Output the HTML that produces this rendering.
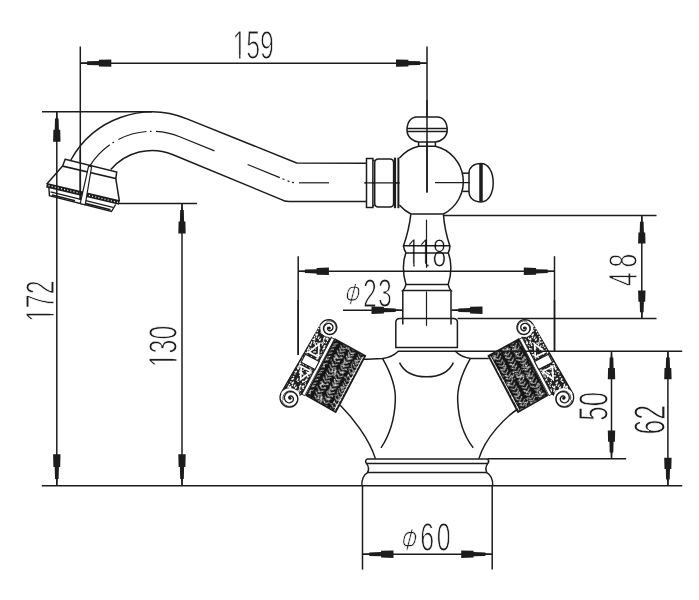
<!DOCTYPE html>
<html lang="en"><head><meta charset="utf-8"><title>Faucet dimensions</title>
<style>
html,body{margin:0;padding:0;background:#fff;}
body{width:699px;height:600px;overflow:hidden;}
svg{display:block;filter:grayscale(1);}
.t{font-family:"Liberation Sans",sans-serif;fill:#1c1c1c;stroke:#fff;stroke-width:1.1px;paint-order:fill stroke;mix-blend-mode:multiply;}
.i{font-style:italic;stroke-width:0.9px;}
</style></head><body>
<svg width="699" height="600" viewBox="0 0 699 600">
<defs><pattern id="texL" width="30" height="30" patternUnits="userSpaceOnUse" patternTransform="rotate(117.7)"><rect width="30" height="30" fill="#141414"/><polyline points="0.0,1.4 2.6,4.8 0.0,8.2" stroke="#f4f4f4" stroke-width="0.95" fill="none"/><polyline points="3.9,1.3 6.5,4.7 3.9,8.1" stroke="#f4f4f4" stroke-width="0.95" fill="none"/><polyline points="7.8,1.8 10.4,5.2 7.8,8.6" stroke="#f4f4f4" stroke-width="0.95" fill="none"/><polyline points="11.7,1.2 14.3,4.6 11.7,8.0" stroke="#f4f4f4" stroke-width="0.95" fill="none"/><polyline points="15.6,1.6 18.2,5.0 15.6,8.4" stroke="#f4f4f4" stroke-width="0.95" fill="none"/><polyline points="19.5,1.5 22.1,4.9 19.5,8.3" stroke="#f4f4f4" stroke-width="0.95" fill="none"/><polyline points="23.4,1.2 26.0,4.6 23.4,8.0" stroke="#f4f4f4" stroke-width="0.95" fill="none"/><polyline points="27.3,1.6 29.9,5.0 27.3,8.4" stroke="#f4f4f4" stroke-width="0.95" fill="none"/><polyline points="0.0,11.1 2.6,14.5 0.0,17.9" stroke="#f4f4f4" stroke-width="0.95" fill="none"/><polyline points="3.9,11.5 6.5,14.9 3.9,18.3" stroke="#f4f4f4" stroke-width="0.95" fill="none"/><polyline points="7.8,11.2 10.4,14.6 7.8,18.0" stroke="#f4f4f4" stroke-width="0.95" fill="none"/><polyline points="11.7,11.2 14.3,14.6 11.7,18.0" stroke="#f4f4f4" stroke-width="0.95" fill="none"/><polyline points="15.6,11.5 18.2,14.9 15.6,18.3" stroke="#f4f4f4" stroke-width="0.95" fill="none"/><polyline points="19.5,11.9 22.1,15.3 19.5,18.7" stroke="#f4f4f4" stroke-width="0.95" fill="none"/><polyline points="23.4,11.2 26.0,14.6 23.4,18.0" stroke="#f4f4f4" stroke-width="0.95" fill="none"/><polyline points="27.3,11.3 29.9,14.7 27.3,18.1" stroke="#f4f4f4" stroke-width="0.95" fill="none"/><polyline points="0.0,21.7 2.6,25.1 0.0,28.5" stroke="#f4f4f4" stroke-width="0.95" fill="none"/><polyline points="3.9,22.0 6.5,25.4 3.9,28.8" stroke="#f4f4f4" stroke-width="0.95" fill="none"/><polyline points="7.8,21.7 10.4,25.1 7.8,28.5" stroke="#f4f4f4" stroke-width="0.95" fill="none"/><polyline points="11.7,21.5 14.3,24.9 11.7,28.3" stroke="#f4f4f4" stroke-width="0.95" fill="none"/><polyline points="15.6,22.1 18.2,25.5 15.6,28.9" stroke="#f4f4f4" stroke-width="0.95" fill="none"/><polyline points="19.5,21.1 22.1,24.5 19.5,27.9" stroke="#f4f4f4" stroke-width="0.95" fill="none"/><polyline points="23.4,22.0 26.0,25.4 23.4,28.8" stroke="#f4f4f4" stroke-width="0.95" fill="none"/><polyline points="27.3,21.4 29.9,24.8 27.3,28.2" stroke="#f4f4f4" stroke-width="0.95" fill="none"/><path d="M4.3,3.5 l1.0,1.8" stroke="#f4f4f4" stroke-width="1.0" fill="none"/><path d="M20.5,3.1 l0.0,2.2" stroke="#f4f4f4" stroke-width="1.0" fill="none"/><path d="M11.2,16.4 l1.7,1.2" stroke="#f4f4f4" stroke-width="1.0" fill="none"/><path d="M18.6,14.9 l0.0,1.7" stroke="#f4f4f4" stroke-width="1.0" fill="none"/><path d="M9.4,17.6 l-0.8,1.4" stroke="#f4f4f4" stroke-width="1.0" fill="none"/><path d="M7.5,5.4 l-0.8,0.6" stroke="#f4f4f4" stroke-width="1.0" fill="none"/><path d="M9.0,14.9 l1.2,2.1" stroke="#f4f4f4" stroke-width="1.0" fill="none"/><path d="M8.6,29.4 l1.6,1.1" stroke="#f4f4f4" stroke-width="1.0" fill="none"/><path d="M4.9,10.3 l-0.9,1.5" stroke="#f4f4f4" stroke-width="1.0" fill="none"/><path d="M28.9,2.3 l0.0,2.1" stroke="#f4f4f4" stroke-width="1.0" fill="none"/><path d="M26.3,9.4 l1.6,0.0" stroke="#f4f4f4" stroke-width="1.0" fill="none"/><path d="M14.9,23.9 l2.2,1.5" stroke="#f4f4f4" stroke-width="1.0" fill="none"/><path d="M28.3,14.2 l0.9,0.0" stroke="#f4f4f4" stroke-width="1.0" fill="none"/><path d="M21.9,9.3 l0.0,3.0" stroke="#f4f4f4" stroke-width="1.0" fill="none"/><path d="M24.7,8.5 l-1.4,2.4" stroke="#f4f4f4" stroke-width="1.0" fill="none"/><path d="M10.4,28.2 l0.6,1.0" stroke="#f4f4f4" stroke-width="1.0" fill="none"/><path d="M3.5,1.8 l0.5,0.9" stroke="#f4f4f4" stroke-width="1.0" fill="none"/><path d="M7.4,11.7 l-0.5,0.8" stroke="#f4f4f4" stroke-width="1.0" fill="none"/><path d="M13.5,16.5 l-2.1,1.5" stroke="#f4f4f4" stroke-width="1.0" fill="none"/><path d="M25.9,8.4 l-1.5,2.6" stroke="#f4f4f4" stroke-width="1.0" fill="none"/><path d="M20.5,11.4 l-0.9,0.6" stroke="#f4f4f4" stroke-width="1.0" fill="none"/><path d="M5.3,7.0 l-0.7,0.5" stroke="#f4f4f4" stroke-width="1.0" fill="none"/><path d="M24.9,5.5 l0.4,0.7" stroke="#f4f4f4" stroke-width="1.0" fill="none"/><path d="M12.6,11.1 l0.0,1.5" stroke="#f4f4f4" stroke-width="1.0" fill="none"/><path d="M3.8,25.8 l0.0,2.2" stroke="#f4f4f4" stroke-width="1.0" fill="none"/><path d="M22.2,13.7 l2.6,0.0" stroke="#f4f4f4" stroke-width="1.0" fill="none"/><path d="M11.8,12.0 l1.5,1.1" stroke="#f4f4f4" stroke-width="1.0" fill="none"/><path d="M12.0,5.7 l-1.4,1.0" stroke="#f4f4f4" stroke-width="1.0" fill="none"/><path d="M3.3,18.0 l0.7,0.5" stroke="#f4f4f4" stroke-width="1.0" fill="none"/><path d="M4.5,3.0 l1.1,1.9" stroke="#f4f4f4" stroke-width="1.0" fill="none"/><path d="M2.1,6.2 l-0.6,1.0" stroke="#f4f4f4" stroke-width="1.0" fill="none"/><path d="M7.6,10.4 l0.9,1.6" stroke="#f4f4f4" stroke-width="1.0" fill="none"/><path d="M3.5,14.6 l-0.9,1.6" stroke="#f4f4f4" stroke-width="1.0" fill="none"/><path d="M9.4,4.3 l1.6,0.0" stroke="#f4f4f4" stroke-width="1.0" fill="none"/><path d="M7.9,24.9 l-1.6,1.1" stroke="#f4f4f4" stroke-width="1.0" fill="none"/><path d="M6.2,28.6 l0.6,1.0" stroke="#f4f4f4" stroke-width="1.0" fill="none"/><path d="M16.3,0.8 l0.0,1.5" stroke="#f4f4f4" stroke-width="1.0" fill="none"/><path d="M19.3,2.7 l1.0,1.7" stroke="#f4f4f4" stroke-width="1.0" fill="none"/><path d="M27.2,10.7 l-1.6,1.1" stroke="#f4f4f4" stroke-width="1.0" fill="none"/><path d="M23.4,9.9 l-1.8,1.2" stroke="#f4f4f4" stroke-width="1.0" fill="none"/><path d="M23.7,22.7 l-2.1,1.5" stroke="#f4f4f4" stroke-width="1.0" fill="none"/><path d="M24.5,22.2 l-1.0,0.7" stroke="#f4f4f4" stroke-width="1.0" fill="none"/><path d="M14.8,21.9 l2.1,1.5" stroke="#f4f4f4" stroke-width="1.0" fill="none"/><path d="M14.2,5.8 l0.0,2.9" stroke="#f4f4f4" stroke-width="1.0" fill="none"/><path d="M13.4,28.1 l1.5,2.5" stroke="#f4f4f4" stroke-width="1.0" fill="none"/><path d="M10.9,6.6 l-1.5,1.1" stroke="#f4f4f4" stroke-width="1.0" fill="none"/><path d="M10.1,14.5 l0.0,2.6" stroke="#f4f4f4" stroke-width="1.0" fill="none"/><path d="M14.4,19.6 l1.0,0.0" stroke="#f4f4f4" stroke-width="1.0" fill="none"/><path d="M19.8,27.3 l2.5,0.0" stroke="#f4f4f4" stroke-width="1.0" fill="none"/><path d="M14.3,5.4 l1.5,0.0" stroke="#f4f4f4" stroke-width="1.0" fill="none"/><path d="M24.0,29.1 l-0.9,1.6" stroke="#f4f4f4" stroke-width="1.0" fill="none"/><path d="M22.3,2.5 l-1.0,0.7" stroke="#f4f4f4" stroke-width="1.0" fill="none"/><path d="M3.8,4.5 l-1.3,2.2" stroke="#f4f4f4" stroke-width="1.0" fill="none"/><path d="M4.4,24.8 l-1.1,1.9" stroke="#f4f4f4" stroke-width="1.0" fill="none"/><path d="M10.5,16.5 l-0.7,0.5" stroke="#f4f4f4" stroke-width="1.0" fill="none"/></pattern><pattern id="texR" width="30" height="30" patternUnits="userSpaceOnUse" patternTransform="rotate(62.3)"><rect width="30" height="30" fill="#141414"/><polyline points="0.0,1.9 2.6,5.3 0.0,8.7" stroke="#f4f4f4" stroke-width="0.95" fill="none"/><polyline points="3.9,1.8 6.5,5.2 3.9,8.6" stroke="#f4f4f4" stroke-width="0.95" fill="none"/><polyline points="7.8,1.2 10.4,4.6 7.8,8.0" stroke="#f4f4f4" stroke-width="0.95" fill="none"/><polyline points="11.7,1.8 14.3,5.2 11.7,8.6" stroke="#f4f4f4" stroke-width="0.95" fill="none"/><polyline points="15.6,1.2 18.2,4.6 15.6,8.0" stroke="#f4f4f4" stroke-width="0.95" fill="none"/><polyline points="19.5,2.1 22.1,5.5 19.5,8.9" stroke="#f4f4f4" stroke-width="0.95" fill="none"/><polyline points="23.4,1.3 26.0,4.7 23.4,8.1" stroke="#f4f4f4" stroke-width="0.95" fill="none"/><polyline points="27.3,2.0 29.9,5.4 27.3,8.8" stroke="#f4f4f4" stroke-width="0.95" fill="none"/><polyline points="0.0,11.1 2.6,14.5 0.0,17.9" stroke="#f4f4f4" stroke-width="0.95" fill="none"/><polyline points="3.9,11.3 6.5,14.7 3.9,18.1" stroke="#f4f4f4" stroke-width="0.95" fill="none"/><polyline points="7.8,11.6 10.4,15.0 7.8,18.4" stroke="#f4f4f4" stroke-width="0.95" fill="none"/><polyline points="11.7,11.9 14.3,15.3 11.7,18.7" stroke="#f4f4f4" stroke-width="0.95" fill="none"/><polyline points="15.6,11.4 18.2,14.8 15.6,18.2" stroke="#f4f4f4" stroke-width="0.95" fill="none"/><polyline points="19.5,11.6 22.1,15.0 19.5,18.4" stroke="#f4f4f4" stroke-width="0.95" fill="none"/><polyline points="23.4,11.9 26.0,15.3 23.4,18.7" stroke="#f4f4f4" stroke-width="0.95" fill="none"/><polyline points="27.3,11.2 29.9,14.6 27.3,18.0" stroke="#f4f4f4" stroke-width="0.95" fill="none"/><polyline points="0.0,21.8 2.6,25.2 0.0,28.6" stroke="#f4f4f4" stroke-width="0.95" fill="none"/><polyline points="3.9,22.0 6.5,25.4 3.9,28.8" stroke="#f4f4f4" stroke-width="0.95" fill="none"/><polyline points="7.8,21.8 10.4,25.2 7.8,28.6" stroke="#f4f4f4" stroke-width="0.95" fill="none"/><polyline points="11.7,21.9 14.3,25.3 11.7,28.7" stroke="#f4f4f4" stroke-width="0.95" fill="none"/><polyline points="15.6,21.6 18.2,25.0 15.6,28.4" stroke="#f4f4f4" stroke-width="0.95" fill="none"/><polyline points="19.5,21.9 22.1,25.3 19.5,28.7" stroke="#f4f4f4" stroke-width="0.95" fill="none"/><polyline points="23.4,22.0 26.0,25.4 23.4,28.8" stroke="#f4f4f4" stroke-width="0.95" fill="none"/><polyline points="27.3,21.2 29.9,24.6 27.3,28.0" stroke="#f4f4f4" stroke-width="0.95" fill="none"/><path d="M4.6,15.3 l-1.3,2.2" stroke="#f4f4f4" stroke-width="1.0" fill="none"/><path d="M18.3,23.3 l-1.0,0.7" stroke="#f4f4f4" stroke-width="1.0" fill="none"/><path d="M14.2,21.8 l0.0,0.9" stroke="#f4f4f4" stroke-width="1.0" fill="none"/><path d="M20.5,15.9 l-1.3,2.2" stroke="#f4f4f4" stroke-width="1.0" fill="none"/><path d="M3.2,16.8 l-1.0,0.7" stroke="#f4f4f4" stroke-width="1.0" fill="none"/><path d="M1.3,2.9 l-1.0,1.8" stroke="#f4f4f4" stroke-width="1.0" fill="none"/><path d="M22.8,27.4 l-0.8,1.3" stroke="#f4f4f4" stroke-width="1.0" fill="none"/><path d="M29.2,18.2 l-1.9,1.3" stroke="#f4f4f4" stroke-width="1.0" fill="none"/><path d="M13.6,16.0 l-1.0,1.7" stroke="#f4f4f4" stroke-width="1.0" fill="none"/><path d="M7.4,15.7 l1.4,2.5" stroke="#f4f4f4" stroke-width="1.0" fill="none"/><path d="M26.8,6.1 l-0.6,1.0" stroke="#f4f4f4" stroke-width="1.0" fill="none"/><path d="M3.6,13.3 l1.9,1.3" stroke="#f4f4f4" stroke-width="1.0" fill="none"/><path d="M12.9,6.4 l1.3,2.2" stroke="#f4f4f4" stroke-width="1.0" fill="none"/><path d="M26.9,4.6 l2.2,0.0" stroke="#f4f4f4" stroke-width="1.0" fill="none"/><path d="M11.0,7.6 l-2.4,1.7" stroke="#f4f4f4" stroke-width="1.0" fill="none"/><path d="M6.6,28.6 l-1.4,2.4" stroke="#f4f4f4" stroke-width="1.0" fill="none"/><path d="M4.9,20.0 l-0.9,0.7" stroke="#f4f4f4" stroke-width="1.0" fill="none"/><path d="M12.9,15.5 l0.9,1.5" stroke="#f4f4f4" stroke-width="1.0" fill="none"/><path d="M10.7,2.8 l0.4,0.7" stroke="#f4f4f4" stroke-width="1.0" fill="none"/><path d="M16.6,13.2 l1.3,0.9" stroke="#f4f4f4" stroke-width="1.0" fill="none"/><path d="M15.5,8.9 l0.9,0.6" stroke="#f4f4f4" stroke-width="1.0" fill="none"/><path d="M27.6,6.9 l0.8,0.6" stroke="#f4f4f4" stroke-width="1.0" fill="none"/><path d="M8.2,27.2 l-1.1,0.8" stroke="#f4f4f4" stroke-width="1.0" fill="none"/><path d="M3.9,12.7 l2.6,0.0" stroke="#f4f4f4" stroke-width="1.0" fill="none"/><path d="M7.8,4.5 l0.0,2.1" stroke="#f4f4f4" stroke-width="1.0" fill="none"/><path d="M21.0,2.7 l2.1,1.5" stroke="#f4f4f4" stroke-width="1.0" fill="none"/><path d="M5.5,26.9 l1.4,2.5" stroke="#f4f4f4" stroke-width="1.0" fill="none"/><path d="M19.0,24.0 l1.8,1.2" stroke="#f4f4f4" stroke-width="1.0" fill="none"/><path d="M6.7,7.9 l1.5,1.0" stroke="#f4f4f4" stroke-width="1.0" fill="none"/><path d="M10.2,16.6 l1.1,1.9" stroke="#f4f4f4" stroke-width="1.0" fill="none"/><path d="M1.3,21.3 l2.4,1.7" stroke="#f4f4f4" stroke-width="1.0" fill="none"/><path d="M7.9,5.4 l1.1,1.9" stroke="#f4f4f4" stroke-width="1.0" fill="none"/><path d="M15.9,6.2 l-1.0,1.6" stroke="#f4f4f4" stroke-width="1.0" fill="none"/><path d="M5.3,10.4 l2.4,1.7" stroke="#f4f4f4" stroke-width="1.0" fill="none"/><path d="M1.1,0.6 l0.0,2.0" stroke="#f4f4f4" stroke-width="1.0" fill="none"/><path d="M5.7,14.2 l-0.5,0.9" stroke="#f4f4f4" stroke-width="1.0" fill="none"/><path d="M24.6,13.0 l-1.0,1.7" stroke="#f4f4f4" stroke-width="1.0" fill="none"/><path d="M26.7,29.1 l1.2,2.0" stroke="#f4f4f4" stroke-width="1.0" fill="none"/><path d="M29.5,10.3 l2.4,0.0" stroke="#f4f4f4" stroke-width="1.0" fill="none"/><path d="M4.2,29.7 l2.2,1.5" stroke="#f4f4f4" stroke-width="1.0" fill="none"/><path d="M0.4,18.8 l0.9,1.5" stroke="#f4f4f4" stroke-width="1.0" fill="none"/><path d="M1.7,20.0 l-1.4,2.4" stroke="#f4f4f4" stroke-width="1.0" fill="none"/><path d="M20.1,8.5 l-1.9,1.3" stroke="#f4f4f4" stroke-width="1.0" fill="none"/><path d="M1.4,5.6 l0.9,1.5" stroke="#f4f4f4" stroke-width="1.0" fill="none"/><path d="M7.9,28.9 l0.0,1.5" stroke="#f4f4f4" stroke-width="1.0" fill="none"/><path d="M1.0,26.5 l-1.3,0.9" stroke="#f4f4f4" stroke-width="1.0" fill="none"/><path d="M0.0,11.4 l-0.7,1.2" stroke="#f4f4f4" stroke-width="1.0" fill="none"/><path d="M19.7,7.4 l0.8,0.6" stroke="#f4f4f4" stroke-width="1.0" fill="none"/><path d="M24.5,4.3 l0.0,0.9" stroke="#f4f4f4" stroke-width="1.0" fill="none"/><path d="M0.7,9.1 l-0.8,0.6" stroke="#f4f4f4" stroke-width="1.0" fill="none"/><path d="M28.7,25.6 l-1.8,1.3" stroke="#f4f4f4" stroke-width="1.0" fill="none"/><path d="M21.5,26.4 l-1.2,2.1" stroke="#f4f4f4" stroke-width="1.0" fill="none"/><path d="M21.6,14.8 l1.2,2.1" stroke="#f4f4f4" stroke-width="1.0" fill="none"/><path d="M19.3,1.3 l2.8,0.0" stroke="#f4f4f4" stroke-width="1.0" fill="none"/><path d="M18.8,22.0 l0.0,1.1" stroke="#f4f4f4" stroke-width="1.0" fill="none"/></pattern><pattern id="tex2" width="24" height="24" patternUnits="userSpaceOnUse"><rect width="24" height="24" fill="#222222"/><path d="M12.6,12.1 l2.1,1.5" stroke="#ffffff" stroke-width="1.2" fill="none"/><path d="M14.0,21.4 l2.9,0.0" stroke="#ffffff" stroke-width="1.2" fill="none"/><path d="M15.4,2.0 l0.9,0.6" stroke="#ffffff" stroke-width="1.2" fill="none"/><path d="M8.7,2.5 l-1.0,1.8" stroke="#ffffff" stroke-width="1.2" fill="none"/><path d="M15.1,15.0 l1.3,0.0" stroke="#ffffff" stroke-width="1.2" fill="none"/><path d="M6.3,11.0 l2.0,1.4" stroke="#ffffff" stroke-width="1.2" fill="none"/><path d="M12.1,12.8 l2.0,0.0" stroke="#ffffff" stroke-width="1.2" fill="none"/><path d="M17.9,11.4 l2.2,1.5" stroke="#ffffff" stroke-width="1.2" fill="none"/><path d="M5.6,18.2 l-2.0,1.4" stroke="#ffffff" stroke-width="1.2" fill="none"/><path d="M23.4,11.9 l-0.5,0.8" stroke="#ffffff" stroke-width="1.2" fill="none"/><path d="M21.9,6.9 l1.8,1.2" stroke="#ffffff" stroke-width="1.2" fill="none"/><path d="M15.4,1.9 l-1.3,0.9" stroke="#ffffff" stroke-width="1.2" fill="none"/><path d="M15.6,16.6 l0.0,2.0" stroke="#ffffff" stroke-width="1.2" fill="none"/><path d="M0.3,1.5 l1.5,2.5" stroke="#ffffff" stroke-width="1.2" fill="none"/><path d="M2.4,5.2 l-0.7,1.2" stroke="#ffffff" stroke-width="1.2" fill="none"/><path d="M12.4,11.2 l-1.2,2.2" stroke="#ffffff" stroke-width="1.2" fill="none"/><path d="M23.8,13.2 l1.5,2.6" stroke="#ffffff" stroke-width="1.2" fill="none"/><path d="M22.5,0.4 l-0.5,0.8" stroke="#ffffff" stroke-width="1.2" fill="none"/><path d="M12.2,23.9 l0.8,1.4" stroke="#ffffff" stroke-width="1.2" fill="none"/><path d="M22.0,22.3 l1.7,1.2" stroke="#ffffff" stroke-width="1.2" fill="none"/><path d="M3.4,12.6 l0.5,0.9" stroke="#ffffff" stroke-width="1.2" fill="none"/><path d="M19.7,12.2 l1.9,1.3" stroke="#ffffff" stroke-width="1.2" fill="none"/><path d="M5.6,21.5 l-0.8,1.4" stroke="#ffffff" stroke-width="1.2" fill="none"/><path d="M3.8,22.8 l1.8,0.0" stroke="#ffffff" stroke-width="1.2" fill="none"/><path d="M7.2,3.4 l0.8,1.4" stroke="#ffffff" stroke-width="1.2" fill="none"/><path d="M2.9,8.0 l1.2,2.1" stroke="#ffffff" stroke-width="1.2" fill="none"/><path d="M20.1,2.9 l-1.9,1.4" stroke="#ffffff" stroke-width="1.2" fill="none"/><path d="M21.6,7.0 l0.5,0.8" stroke="#ffffff" stroke-width="1.2" fill="none"/><path d="M9.4,20.9 l1.3,0.9" stroke="#ffffff" stroke-width="1.2" fill="none"/><path d="M10.3,6.6 l1.2,0.8" stroke="#ffffff" stroke-width="1.2" fill="none"/><path d="M1.2,15.9 l2.9,0.0" stroke="#ffffff" stroke-width="1.2" fill="none"/><path d="M6.0,6.4 l0.0,1.5" stroke="#ffffff" stroke-width="1.2" fill="none"/><path d="M18.6,18.8 l-1.4,2.4" stroke="#ffffff" stroke-width="1.2" fill="none"/><path d="M19.5,15.1 l0.0,2.0" stroke="#ffffff" stroke-width="1.2" fill="none"/><path d="M17.3,1.2 l1.7,0.0" stroke="#ffffff" stroke-width="1.2" fill="none"/><path d="M14.8,3.3 l0.9,1.6" stroke="#ffffff" stroke-width="1.2" fill="none"/><path d="M21.9,13.2 l-1.5,1.1" stroke="#ffffff" stroke-width="1.2" fill="none"/><path d="M8.2,7.1 l2.4,0.0" stroke="#ffffff" stroke-width="1.2" fill="none"/><path d="M15.7,9.7 l-1.2,0.8" stroke="#ffffff" stroke-width="1.2" fill="none"/><path d="M13.4,9.5 l-1.8,1.3" stroke="#ffffff" stroke-width="1.2" fill="none"/><path d="M1.8,12.0 l-1.0,1.7" stroke="#ffffff" stroke-width="1.2" fill="none"/><path d="M10.9,8.0 l-0.9,1.5" stroke="#ffffff" stroke-width="1.2" fill="none"/><path d="M13.1,5.9 l-1.3,0.9" stroke="#ffffff" stroke-width="1.2" fill="none"/><path d="M2.2,5.7 l1.3,2.2" stroke="#ffffff" stroke-width="1.2" fill="none"/><path d="M4.9,0.5 l-0.8,1.4" stroke="#ffffff" stroke-width="1.2" fill="none"/><path d="M17.9,5.0 l0.8,1.3" stroke="#ffffff" stroke-width="1.2" fill="none"/><path d="M1.5,6.7 l0.5,0.9" stroke="#ffffff" stroke-width="1.2" fill="none"/><path d="M12.1,15.1 l-0.8,0.6" stroke="#ffffff" stroke-width="1.2" fill="none"/><path d="M21.5,9.2 l1.8,0.0" stroke="#ffffff" stroke-width="1.2" fill="none"/><path d="M22.9,20.4 l0.9,0.6" stroke="#ffffff" stroke-width="1.2" fill="none"/><path d="M10.2,18.3 l-1.5,2.5" stroke="#ffffff" stroke-width="1.2" fill="none"/><path d="M11.8,1.8 l0.0,2.7" stroke="#ffffff" stroke-width="1.2" fill="none"/><path d="M23.3,6.0 l1.1,0.7" stroke="#ffffff" stroke-width="1.2" fill="none"/><path d="M3.6,23.3 l2.4,1.6" stroke="#ffffff" stroke-width="1.2" fill="none"/><path d="M17.3,15.5 l-0.5,0.9" stroke="#ffffff" stroke-width="1.2" fill="none"/><path d="M18.6,0.0 l-1.1,0.8" stroke="#ffffff" stroke-width="1.2" fill="none"/><path d="M22.1,15.5 l1.5,2.5" stroke="#ffffff" stroke-width="1.2" fill="none"/><path d="M15.0,12.7 l-1.2,2.0" stroke="#ffffff" stroke-width="1.2" fill="none"/><path d="M2.7,1.7 l0.0,2.9" stroke="#ffffff" stroke-width="1.2" fill="none"/><path d="M4.6,6.3 l0.0,0.8" stroke="#ffffff" stroke-width="1.2" fill="none"/><path d="M12.9,23.9 l1.5,2.5" stroke="#ffffff" stroke-width="1.2" fill="none"/><path d="M15.5,21.2 l-1.0,1.7" stroke="#ffffff" stroke-width="1.2" fill="none"/><path d="M13.1,0.7 l-1.2,2.0" stroke="#ffffff" stroke-width="1.2" fill="none"/><path d="M7.4,0.5 l-1.4,2.4" stroke="#ffffff" stroke-width="1.2" fill="none"/><path d="M15.5,1.9 l-1.9,1.3" stroke="#ffffff" stroke-width="1.2" fill="none"/><path d="M22.2,5.4 l1.9,1.3" stroke="#ffffff" stroke-width="1.2" fill="none"/><path d="M17.2,8.7 l-0.6,1.1" stroke="#ffffff" stroke-width="1.2" fill="none"/><path d="M19.1,17.7 l0.0,0.9" stroke="#ffffff" stroke-width="1.2" fill="none"/><path d="M11.9,4.8 l-1.1,0.8" stroke="#ffffff" stroke-width="1.2" fill="none"/><path d="M5.3,18.3 l0.5,0.9" stroke="#ffffff" stroke-width="1.2" fill="none"/></pattern><clipPath id="c0" clipPathUnits="userSpaceOnUse"><path d="M-39.79,-40.50 H39.79 V14.17 H-39.79 Z M-33.79,-3.56 H-22.97 V1.21 H-33.79 Z M-20.70,-3.56 H-11.27 V1.21 H-20.70 Z" clip-rule="evenodd"/></clipPath><clipPath id="c1" clipPathUnits="userSpaceOnUse"><path d="M-39.79,-40.50 H39.79 V14.17 H-39.79 Z M-33.79,-3.56 H-22.97 V1.21 H-33.79 Z M-20.70,-3.56 H-11.27 V1.21 H-20.70 Z" clip-rule="evenodd"/></clipPath><clipPath id="c2" clipPathUnits="userSpaceOnUse"><path d="M-39.79,-40.50 H39.79 V14.17 H-39.79 Z M-33.79,-3.56 H-22.97 V1.21 H-33.79 Z M-20.70,-3.56 H-11.27 V1.21 H-20.70 Z" clip-rule="evenodd"/></clipPath><clipPath id="c3" clipPathUnits="userSpaceOnUse"><path d="M-39.79,-40.50 H39.79 V14.17 H-39.79 Z M-33.79,-3.56 H-22.97 V1.21 H-33.79 Z M-20.70,-3.56 H-11.27 V1.21 H-20.70 Z M-11.26,-3.56 H-0.45 V1.21 H-11.26 Z M1.82,-3.56 H11.26 V1.21 H1.82 Z" clip-rule="evenodd"/></clipPath></defs>
<rect width="699" height="600" fill="#fff"/>
<g fill="none" stroke="#1c1c1c">
<line x1="80.3" y1="46.5" x2="80.3" y2="200.0" stroke-width="1.5" />
<line x1="427.0" y1="46.5" x2="427.0" y2="192.6" stroke-width="1.5" />
<line x1="80.3" y1="63.3" x2="427.0" y2="63.3" stroke-width="1.5" />
<polygon points="0.0,0.5 6.8,0.9 6.8,1.8 18.6,2.1 18.6,3.4 31.0,3.7 31.0,-3.7 18.6,-3.4 18.6,-2.1 6.8,-1.8 6.8,-0.9 0.0,-0.5" fill="#1c1c1c" stroke="none" transform="translate(80.3,63.1) rotate(0)"/>
<polygon points="0.0,0.5 6.8,0.9 6.8,1.8 18.6,2.1 18.6,3.4 31.0,3.7 31.0,-3.7 18.6,-3.4 18.6,-2.1 6.8,-1.8 6.8,-0.9 0.0,-0.5" fill="#1c1c1c" stroke="none" transform="translate(427.0,63.1) rotate(180)"/>
<line x1="42.0" y1="111.8" x2="152.0" y2="111.8" stroke-width="1.5" />
<line x1="56.8" y1="111.8" x2="56.8" y2="485.8" stroke-width="1.5" />
<polygon points="0.0,0.5 6.6,0.9 6.6,1.8 18.0,2.1 18.0,3.4 30.0,3.7 30.0,-3.7 18.0,-3.4 18.0,-2.1 6.6,-1.8 6.6,-0.9 0.0,-0.5" fill="#1c1c1c" stroke="none" transform="translate(56.8,111.8) rotate(90)"/>
<polygon points="0.0,0.5 6.9,0.9 6.9,1.8 18.9,2.1 18.9,3.4 31.5,3.7 31.5,-3.7 18.9,-3.4 18.9,-2.1 6.9,-1.8 6.9,-0.9 0.0,-0.5" fill="#1c1c1c" stroke="none" transform="translate(56.8,485.8) rotate(-90)"/>
<line x1="41.8" y1="485.8" x2="682.2" y2="485.8" stroke-width="1.5" />
<line x1="119.0" y1="203.5" x2="197.0" y2="203.5" stroke-width="1.5" />
<line x1="182.0" y1="203.5" x2="182.0" y2="485.8" stroke-width="1.5" />
<polygon points="0.0,0.5 6.6,0.9 6.6,1.8 18.0,2.1 18.0,3.4 30.0,3.7 30.0,-3.7 18.0,-3.4 18.0,-2.1 6.6,-1.8 6.6,-0.9 0.0,-0.5" fill="#1c1c1c" stroke="none" transform="translate(182.0,203.5) rotate(90)"/>
<polygon points="0.0,0.5 6.9,0.9 6.9,1.8 18.9,2.1 18.9,3.4 31.5,3.7 31.5,-3.7 18.9,-3.4 18.9,-2.1 6.9,-1.8 6.9,-0.9 0.0,-0.5" fill="#1c1c1c" stroke="none" transform="translate(182.0,485.8) rotate(-90)"/>
<line x1="298.2" y1="256.2" x2="298.2" y2="355.0" stroke-width="1.5" />
<line x1="554.5" y1="256.2" x2="554.5" y2="351.5" stroke-width="1.5" />
<line x1="298.2" y1="271.3" x2="554.5" y2="271.3" stroke-width="1.5" />
<polygon points="0.0,0.5 6.8,0.9 6.8,1.8 18.4,2.1 18.4,3.4 30.7,3.7 30.7,-3.7 18.4,-3.4 18.4,-2.1 6.8,-1.8 6.8,-0.9 0.0,-0.5" fill="#1c1c1c" stroke="none" transform="translate(298.2,271.3) rotate(0)"/>
<polygon points="0.0,0.5 6.8,0.9 6.8,1.8 18.4,2.1 18.4,3.4 30.7,3.7 30.7,-3.7 18.4,-3.4 18.4,-2.1 6.8,-1.8 6.8,-0.9 0.0,-0.5" fill="#1c1c1c" stroke="none" transform="translate(554.5,271.3) rotate(180)"/>
<line x1="343.0" y1="310.2" x2="402.5" y2="310.2" stroke-width="1.5" />
<line x1="451.5" y1="310.2" x2="482.0" y2="310.2" stroke-width="1.5" />
<polygon points="0.0,0.5 6.8,0.9 6.8,1.8 18.6,2.1 18.6,3.4 31.0,3.7 31.0,-3.7 18.6,-3.4 18.6,-2.1 6.8,-1.8 6.8,-0.9 0.0,-0.5" fill="#1c1c1c" stroke="none" transform="translate(402.5,310.2) rotate(180)"/>
<polygon points="0.0,0.5 6.8,0.9 6.8,1.8 18.6,2.1 18.6,3.4 31.0,3.7 31.0,-3.7 18.6,-3.4 18.6,-2.1 6.8,-1.8 6.8,-0.9 0.0,-0.5" fill="#1c1c1c" stroke="none" transform="translate(451.5,310.2) rotate(0)"/>
<line x1="443.8" y1="215.6" x2="656.5" y2="215.6" stroke-width="1.5" />
<line x1="457.5" y1="318.5" x2="656.5" y2="318.5" stroke-width="1.5" />
<line x1="641.8" y1="215.6" x2="641.8" y2="318.5" stroke-width="1.5" />
<polygon points="0.0,0.5 6.2,0.9 6.2,1.8 16.8,2.1 16.8,3.4 28.0,3.7 28.0,-3.7 16.8,-3.4 16.8,-2.1 6.2,-1.8 6.2,-0.9 0.0,-0.5" fill="#1c1c1c" stroke="none" transform="translate(641.8,215.6) rotate(90)"/>
<polygon points="0.0,0.5 6.2,0.9 6.2,1.8 16.8,2.1 16.8,3.4 28.0,3.7 28.0,-3.7 16.8,-3.4 16.8,-2.1 6.2,-1.8 6.2,-0.9 0.0,-0.5" fill="#1c1c1c" stroke="none" transform="translate(641.8,318.5) rotate(-90)"/>
<line x1="611.5" y1="351.3" x2="611.5" y2="458.6" stroke-width="1.5" />
<line x1="487.4" y1="458.8" x2="626.2" y2="458.8" stroke-width="1.5" />
<polygon points="0.0,0.5 6.2,0.9 6.2,1.8 16.8,2.1 16.8,3.4 28.0,3.7 28.0,-3.7 16.8,-3.4 16.8,-2.1 6.2,-1.8 6.2,-0.9 0.0,-0.5" fill="#1c1c1c" stroke="none" transform="translate(611.5,351.3) rotate(90)"/>
<polygon points="0.0,0.5 6.2,0.9 6.2,1.8 16.8,2.1 16.8,3.4 28.0,3.7 28.0,-3.7 16.8,-3.4 16.8,-2.1 6.2,-1.8 6.2,-0.9 0.0,-0.5" fill="#1c1c1c" stroke="none" transform="translate(611.5,458.6) rotate(-90)"/>
<line x1="667.9" y1="351.3" x2="667.9" y2="485.8" stroke-width="1.5" />
<polygon points="0.0,0.5 6.2,0.9 6.2,1.8 16.8,2.1 16.8,3.4 28.0,3.7 28.0,-3.7 16.8,-3.4 16.8,-2.1 6.2,-1.8 6.2,-0.9 0.0,-0.5" fill="#1c1c1c" stroke="none" transform="translate(667.9,351.3) rotate(90)"/>
<polygon points="0.0,0.5 6.2,0.9 6.2,1.8 16.8,2.1 16.8,3.4 28.0,3.7 28.0,-3.7 16.8,-3.4 16.8,-2.1 6.2,-1.8 6.2,-0.9 0.0,-0.5" fill="#1c1c1c" stroke="none" transform="translate(667.9,485.8) rotate(-90)"/>
<line x1="362.5" y1="485.8" x2="362.5" y2="569.6" stroke-width="1.5" />
<line x1="492.2" y1="485.8" x2="492.2" y2="569.6" stroke-width="1.5" />
<line x1="362.5" y1="554.2" x2="492.2" y2="554.2" stroke-width="1.5" />
<polygon points="0.0,0.5 6.8,0.9 6.8,1.8 18.6,2.1 18.6,3.4 31.0,3.7 31.0,-3.7 18.6,-3.4 18.6,-2.1 6.8,-1.8 6.8,-0.9 0.0,-0.5" fill="#1c1c1c" stroke="none" transform="translate(362.5,554.2) rotate(0)"/>
<polygon points="0.0,0.5 6.8,0.9 6.8,1.8 18.6,2.1 18.6,3.4 31.0,3.7 31.0,-3.7 18.6,-3.4 18.6,-2.1 6.8,-1.8 6.8,-0.9 0.0,-0.5" fill="#1c1c1c" stroke="none" transform="translate(492.2,554.2) rotate(180)"/>
<path d="M70.9,160.0 A92.5 92.5 0 0 1 187.0,118.9 L296.6,162.9 L366.5,163.2" stroke-width="1.5" fill="none" />
<path d="M110.8,169.6 A54.0 54.0 0 0 1 172.4,154.5 L281.5,199.6 Q284,201.3 289,201.4 L366.5,201.6" stroke-width="1.5" fill="none" />
<path d="M89.5,166.4 A73.2 73.2 0 0 1 109.8,144.7" stroke-width="1.2" fill="none" />
<path d="M112.5,142.9 A73.2 73.2 0 0 1 114.0,141.9" stroke-width="1.2" fill="none" />
<path d="M118.4,139.5 A73.2 73.2 0 0 1 146.5,131.5" stroke-width="1.2" fill="none" />
<path d="M150.0,131.3 A73.2 73.2 0 0 1 151.5,131.3" stroke-width="1.2" fill="none" />
<path d="M156.0,131.4 A73.2 73.2 0 0 1 179.7,136.7 L214.5,150.9" stroke-width="1.2" fill="none" />
<path d="M247.6,164.5 L279.8,177.6" stroke-width="1.2" fill="none" />
<path d="M282.5,178.7 L284.5,179.5 M287.5,180.7 L289.5,181.6 M292,182.3 L294,182.7" stroke-width="1.2" fill="none" />
<line x1="299.0" y1="182.8" x2="329.0" y2="182.8" stroke-width="1.2" />
<line x1="364.5" y1="182.8" x2="399.5" y2="182.8" stroke-width="1.2" />
<path d="M65.2,159.2 L116.7,172.1 L115.8,178.6 L62.6,166.1 Z" stroke-width="1.5" fill="#fff" />
<path d="M62.6,166.1 L46.6,184.2 M115.8,178.6 L119.4,201.2" stroke-width="1.5" fill="none" />
<path d="M46.6,185.2 L119.4,202.6" stroke-width="4.6" fill="none" />
<path d="M48.5,185.7 L118,202.3" stroke-width="1.2" fill="none" stroke="#e8e8e8" stroke-dasharray="1.1 2.1"/>
<path d="M48.9,188 L49.4,195.8 L111.5,211.5 L115.6,204.5" stroke-width="1.4" fill="none" />
<path d="M50.5,191.8 L113,207.3" stroke-width="1.2" fill="none" />
<path d="M52,195 L75,200.8 M86,203.6 L110.5,209.8" stroke-width="1.6" fill="none" />
<path d="M88.6,166 L91.6,166.8 L85.2,204.8 L80.2,203.6 Z" stroke-width="1.2" fill="#fff" />
<line x1="80.3" y1="150.0" x2="80.3" y2="200.0" stroke-width="1.5" />
<path d="M366.5,158.4 H372.9 V207.6 H366.5 Z" stroke-width="1.5" fill="#fff" />
<path d="M378.5,159 H390 Q393.6,159 393.6,163 V203 Q393.6,207 390,207 H378.5 Q374.7,207 374.7,203 V163 Q374.7,159 378.5,159 Z" stroke-width="1.5" fill="#fff" />
<line x1="372.9" y1="160.5" x2="374.7" y2="160.5" stroke-width="1.5" />
<line x1="372.9" y1="205.5" x2="374.7" y2="205.5" stroke-width="1.5" />
<line x1="395.0" y1="157.6" x2="395.0" y2="208.2" stroke-width="2.2" />
<line x1="398.4" y1="157.6" x2="398.4" y2="208.2" stroke-width="2.0" />
<line x1="364.5" y1="182.8" x2="399.5" y2="182.8" stroke-width="1.2" />
<path d="M399.4,158.1 A36.3 36.3 0 0 1 418.8,146.3 L435.4,146.3 A36.3 36.3 0 0 1 443.4,214.0 L410.8,214.0 A36.3 36.3 0 0 1 399.4,205.1" stroke-width="1.5" fill="none" />
<path d="M418.6,142 C413.5,141.5 407,137.5 407,130 C407,122 411,117 417,117 L437.2,117 C443.2,117 447.2,122 447.2,130 C447.2,137.5 440.8,141.5 435.4,142 Z" stroke-width="1.5" fill="#fff" />
<line x1="407.0" y1="128.6" x2="447.2" y2="128.6" stroke-width="1.5" />
<line x1="407.0" y1="131.6" x2="447.2" y2="131.6" stroke-width="1.5" />
<line x1="418.6" y1="142.0" x2="418.6" y2="146.3" stroke-width="1.5" />
<line x1="435.4" y1="142.0" x2="435.4" y2="146.3" stroke-width="1.5" />
<path d="M481,163.6 C473.5,163.6 469,167.5 469,173.2 L469,191.4 C469,197.5 473.5,201.9 481,201.9 C488.5,201.9 493.2,193.5 493.2,182.8 C493.2,172 488.5,163.6 481,163.6 Z" stroke-width="1.5" fill="#fff" />
<line x1="481.0" y1="163.8" x2="481.0" y2="201.7" stroke-width="3.5" />
<line x1="462.4" y1="173.2" x2="469.0" y2="173.2" stroke-width="1.5" />
<line x1="462.4" y1="191.4" x2="469.0" y2="191.4" stroke-width="1.5" />
<line x1="435.0" y1="182.6" x2="470.0" y2="182.6" stroke-width="1.2" />
<line x1="427.0" y1="100.0" x2="427.0" y2="192.6" stroke-width="1.5" />
<path d="M410.8,214.4 C409.5,226 407,236 403.5,245.8 L449.8,245.8 C446.5,236 444.3,226 443.4,214.4" stroke-width="1.5" fill="none" />
<path d="M403.5,245.8 Q404,250 406,252.9 L448.2,252.9 Q450,250 449.8,245.8" stroke-width="1.5" fill="none" />
<path d="M406,252.9 C402.5,261 402.5,274 406,284.4 L448.2,284.4 C451.8,274 451.8,261 448.2,252.9" stroke-width="1.5" fill="none" />
<path d="M406,284.4 Q405,288.5 402.8,290.6 L451,290.6 Q449,288.5 448.2,284.4" stroke-width="1.5" fill="none" />
<path d="M402.8,290.6 V324.5 M451,290.6 V324.5" stroke-width="1.5" fill="none" />
<line x1="426.5" y1="219.7" x2="426.5" y2="267.8" stroke-width="1.2" />
<line x1="426.5" y1="291.5" x2="426.5" y2="325.8" stroke-width="1.2" />
<path d="M399.8,318.6 H453.4 Q457.4,318.6 457.4,322.6 V347.6 H395.8 V322.6 Q395.8,318.6 399.8,318.6 Z" stroke-width="1.5" fill="none" />
<path d="M367,359.2 L382.5,358.6 C389,357.8 394,355.5 398.3,351.3 L455.3,351.3 C459.5,355.5 464.5,357.8 471,358.6 L488.8,358.5" stroke-width="1.5" fill="none" />
<path d="M382.5,358.4 C392,375 396,390 395.3,401 C394.5,420 389,436 381,447.8" stroke-width="1.5" fill="none" />
<path d="M470.4,358.4 C461,375 457,390 457.7,401 C458.5,420 464,436 473.2,447.8" stroke-width="1.5" fill="none" />
<path d="M399.5,362.6 C404,372 414,376.8 426.5,376.8 C439,376.8 449,372 453.4,362.6" stroke-width="1.5" fill="none" />
<path d="M340,405 C352,417 369,438 375.4,458.6" stroke-width="1.5" fill="none" />
<path d="M520,407.5 C505,417 485,438 478.9,458.6" stroke-width="1.5" fill="none" />
<path d="M367,459 H487.4 M366.5,463.4 H487.8 M367.5,472.6 H486.8" stroke-width="1.5" fill="none" />
<path d="M367,459 Q364.5,461 366.5,463.4 Q370,468 367.5,472.6 Q361.5,476 361.8,486" stroke-width="1.5" fill="none" />
<path d="M487.4,459 Q489.8,461 487.8,463.4 Q484.5,468 486.8,472.6 Q493,476 492.8,486" stroke-width="1.5" fill="none" />
<line x1="360.0" y1="359.3" x2="367.0" y2="359.2" stroke-width="1.5" />
<g transform="translate(253.2,58.8) rotate(0) scale(0.615,1)"><text x="-33.79" y="0" font-size="40.5" letter-spacing="0" class="t" clip-path="url(#c0)">159</text></g>
<g transform="translate(53.7,301.2) rotate(-90) scale(0.615,1)"><text x="-33.79" y="0" font-size="40.5" letter-spacing="0" class="t" clip-path="url(#c1)">172</text></g>
<g transform="translate(177.3,346.5) rotate(-90) scale(0.615,1)"><text x="-33.79" y="0" font-size="40.5" letter-spacing="0" class="t" clip-path="url(#c2)">130</text></g>
<g transform="translate(427.4,267.2) rotate(0) scale(0.615,1)"><text x="-33.79" y="0" font-size="40.5" letter-spacing="0" class="t" clip-path="url(#c3)">118</text></g>
<g transform="translate(637.2,270.0) rotate(-90) scale(0.615,1)"><text x="-26.52" y="0" font-size="40.5" letter-spacing="8" class="t">48</text></g>
<g transform="translate(608.0,406.3) rotate(-90) scale(0.615,1)"><text x="-23.36" y="0" font-size="42" letter-spacing="0" class="t">50</text></g>
<g transform="translate(664.6,419.7) rotate(-90) scale(0.615,1)"><text x="-24.19" y="0" font-size="43.5" letter-spacing="0" class="t">62</text></g>
<g transform="translate(435.4,551.0) rotate(0) scale(0.615,1)"><text x="-24.52" y="0" font-size="40.5" letter-spacing="4" class="t">60</text></g>
<g transform="translate(377.5,306.8) rotate(0) scale(0.615,1)"><text x="-23.52" y="0" font-size="40.5" letter-spacing="2" class="t">23</text></g>
<g transform="translate(407.6,549.5) rotate(0) skewX(-8) scale(0.58,1)"><text x="-12.17" y="0" font-size="30.5" letter-spacing="0" class="t i">Φ</text></g>
<g transform="translate(351.0,304.3) rotate(0) skewX(-8) scale(0.58,1)"><text x="-11.77" y="0" font-size="29.5" letter-spacing="0" class="t i">Φ</text></g>
<polygon points="335.1,339.2 365.3,355.9 335.7,412.2 306.3,395.5" fill="url(#texL)" stroke="#1c1c1c" stroke-width="1.6" />
<polyline points="363.2,356.6 334.6,410.2" fill="none" stroke="#fff" stroke-width="0.9" />
<polygon points="321.2,323.8 331.3,326.0 331.3,338.0 302.4,393.4 293.0,399.3 280.9,393.5" fill="url(#tex2)" stroke="#1c1c1c" stroke-width="1.4" />
<polyline points="320.3,325.5 286.9,389.3" fill="none" stroke="#fff" stroke-width="1.3" stroke-dasharray="1.3 1.7"/>
<polyline points="328.4,338.8 302.0,389.3" fill="none" stroke="#fff" stroke-width="0.9" stroke-dasharray="2 1.5"/>
<polygon points="331.5,337.6 334.4,339.0 304.7,395.7 301.9,394.3" fill="#fff" stroke="#1c1c1c" stroke-width="0.9" />
<polygon points="319.2,361.6 315.0,369.5 301.1,362.3 305.3,354.3" fill="#fff" stroke="#1c1c1c" stroke-width="1.1" />
<polyline points="318.4,357.2 319.1,344.0 308.7,352.1 318.4,357.2" fill="none" stroke="#fff" stroke-width="1.7" />
<polyline points="311.0,371.4 300.6,379.5 301.3,366.3 311.0,371.4" fill="none" stroke="#fff" stroke-width="1.7" />
<circle cx="329.3" cy="328.0" r="9.1" fill="#fff" stroke="none"/>
<polyline points="321.2,323.8 322.7,321.9 324.6,320.6 326.7,319.8 329.0,319.6 331.2,319.9 333.1,320.8 334.7,322.2 335.9,323.9 336.6,325.8 336.8,327.8 336.4,329.7 335.6,331.4 334.4,332.8 332.9,333.8 331.2,334.4 329.5,334.5 327.8,334.2 326.3,333.4 325.1,332.4 324.3,331.0 323.8,329.6 323.7,328.1 324.1,326.7 324.7,325.5 325.7,324.5 326.8,323.8 328.0,323.4 329.2,323.4 330.4,323.7 331.4,324.3 332.2,325.1 332.7,326.0 332.9,327.0 332.9,328.0 332.6,328.9 332.2,329.6 331.5,330.2 330.8,330.6 330.0,330.7 329.3,330.7 328.7,330.4 328.1,330.0 327.8,329.5 327.6,329.0 327.5,328.5 327.6,328.0 327.8,327.6 328.1,327.3 328.5,327.1" fill="none" stroke="#1c1c1c" stroke-width="1.35" />
<polyline points="326.6,321.3 328.4,320.9 330.2,321.0 332.0,321.5 333.5,322.5 334.8,323.8 335.6,325.4 336.0,327.1 336.0,328.9 335.5,330.6 334.5,332.0 333.3,333.2 331.8,334.0 330.1,334.4 328.5,334.3 326.9,333.8 325.5,333.0 324.4,331.8 323.6,330.3 323.3,328.8 323.3,327.2 323.8,325.7 324.6,324.4 325.7,323.3 327.1,322.6" fill="none" stroke="#1c1c1c" stroke-width="0.8" />
<circle cx="329.3" cy="328.0" r="1.5" fill="#1c1c1c" stroke="none"/>
<circle cx="290.0" cy="398.3" r="10.3" fill="#fff" stroke="none"/>
<polyline points="280.9,393.5 280.1,396.1 280.1,398.7 280.7,401.2 282.0,403.5 283.7,405.2 285.8,406.5 288.1,407.1 290.4,407.1 292.7,406.5 294.6,405.4 296.1,403.8 297.2,401.9 297.7,399.9 297.7,397.9 297.1,395.9 296.1,394.3 294.7,393.0 293.1,392.1 291.3,391.7 289.6,391.7 287.9,392.2 286.5,393.1 285.5,394.3 284.8,395.7 284.4,397.2 284.5,398.7 285.0,400.0 285.8,401.2 286.8,402.0 287.9,402.6 289.2,402.8 290.3,402.6 291.4,402.2 292.3,401.6 292.9,400.8 293.3,399.8 293.4,398.9 293.2,398.0 292.9,397.3 292.4,396.7 291.7,396.2 291.1,396.0 290.4,396.0 289.8,396.2 289.3,396.5 289.0,396.9 288.8,397.3 288.7,397.7 288.8,398.1" fill="none" stroke="#1c1c1c" stroke-width="1.35" />
<polyline points="281.8,400.1 282.6,402.1 283.9,403.9 285.6,405.2 287.5,406.1 289.6,406.4 291.7,406.2 293.7,405.4 295.4,404.2 296.6,402.5 297.5,400.7 297.8,398.7 297.5,396.6 296.8,394.8 295.6,393.2 294.1,392.0 292.3,391.2 290.3,390.9 288.4,391.1 286.6,391.8 285.1,393.0 284.0,394.4 283.2,396.1 282.9,398.0 283.2,399.8" fill="none" stroke="#1c1c1c" stroke-width="0.8" />
<circle cx="290.0" cy="398.3" r="1.5" fill="#1c1c1c" stroke="none"/>
<polygon points="518.6,339.2 488.4,355.9 518.0,412.2 547.4,395.5" fill="url(#texR)" stroke="#1c1c1c" stroke-width="1.6" />
<polyline points="490.5,356.6 519.1,410.2" fill="none" stroke="#fff" stroke-width="0.9" />
<polygon points="532.5,323.8 522.4,326.0 522.4,338.0 551.3,393.4 560.7,399.3 572.8,393.5" fill="url(#tex2)" stroke="#1c1c1c" stroke-width="1.4" />
<polyline points="533.4,325.5 566.8,389.3" fill="none" stroke="#fff" stroke-width="1.3" stroke-dasharray="1.3 1.7"/>
<polyline points="525.3,338.8 551.7,389.3" fill="none" stroke="#fff" stroke-width="0.9" stroke-dasharray="2 1.5"/>
<polygon points="522.2,337.6 519.3,339.0 549.0,395.7 551.8,394.3" fill="#fff" stroke="#1c1c1c" stroke-width="0.9" />
<polygon points="534.5,361.6 538.7,369.5 552.6,362.3 548.4,354.3" fill="#fff" stroke="#1c1c1c" stroke-width="1.1" />
<polyline points="535.3,357.2 534.6,344.0 545.0,352.1 535.3,357.2" fill="none" stroke="#fff" stroke-width="1.7" />
<polyline points="542.7,371.4 553.1,379.5 552.4,366.3 542.7,371.4" fill="none" stroke="#fff" stroke-width="1.7" />
<circle cx="524.4" cy="328.0" r="9.1" fill="#fff" stroke="none"/>
<polyline points="532.5,323.8 531.0,321.9 529.1,320.6 527.0,319.8 524.7,319.6 522.5,319.9 520.6,320.8 519.0,322.2 517.8,323.9 517.1,325.8 516.9,327.8 517.3,329.7 518.1,331.4 519.3,332.8 520.8,333.8 522.5,334.4 524.2,334.5 525.9,334.2 527.4,333.4 528.6,332.4 529.4,331.0 529.9,329.6 530.0,328.1 529.6,326.7 529.0,325.5 528.0,324.5 526.9,323.8 525.7,323.4 524.5,323.4 523.3,323.7 522.3,324.3 521.5,325.1 521.0,326.0 520.8,327.0 520.8,328.0 521.1,328.9 521.5,329.6 522.2,330.2 522.9,330.6 523.7,330.7 524.4,330.7 525.0,330.4 525.6,330.0 525.9,329.5 526.1,329.0 526.2,328.5 526.1,328.0 525.9,327.6 525.6,327.3 525.2,327.1" fill="none" stroke="#1c1c1c" stroke-width="1.35" />
<polyline points="527.1,321.3 525.3,320.9 523.5,321.0 521.7,321.5 520.2,322.5 518.9,323.8 518.1,325.4 517.7,327.1 517.7,328.9 518.2,330.6 519.2,332.0 520.4,333.2 521.9,334.0 523.6,334.4 525.2,334.3 526.8,333.8 528.2,333.0 529.3,331.8 530.1,330.3 530.4,328.8 530.4,327.2 529.9,325.7 529.1,324.4 528.0,323.3 526.6,322.6" fill="none" stroke="#1c1c1c" stroke-width="0.8" />
<circle cx="524.4" cy="328.0" r="1.5" fill="#1c1c1c" stroke="none"/>
<circle cx="563.7" cy="398.3" r="10.3" fill="#fff" stroke="none"/>
<polyline points="572.8,393.5 573.6,396.1 573.6,398.7 573.0,401.2 571.7,403.5 570.0,405.2 567.9,406.5 565.6,407.1 563.3,407.1 561.0,406.5 559.1,405.4 557.6,403.8 556.5,401.9 556.0,399.9 556.0,397.9 556.6,395.9 557.6,394.3 559.0,393.0 560.6,392.1 562.4,391.7 564.1,391.7 565.8,392.2 567.2,393.1 568.2,394.3 568.9,395.7 569.3,397.2 569.2,398.7 568.7,400.0 567.9,401.2 566.9,402.0 565.8,402.6 564.5,402.8 563.4,402.6 562.3,402.2 561.4,401.6 560.8,400.8 560.4,399.8 560.3,398.9 560.5,398.0 560.8,397.3 561.3,396.7 562.0,396.2 562.6,396.0 563.3,396.0 563.9,396.2 564.4,396.5 564.7,396.9 564.9,397.3 565.0,397.7 564.9,398.1" fill="none" stroke="#1c1c1c" stroke-width="1.35" />
<polyline points="571.9,400.1 571.1,402.1 569.8,403.9 568.1,405.2 566.2,406.1 564.1,406.4 562.0,406.2 560.0,405.4 558.3,404.2 557.1,402.5 556.2,400.7 555.9,398.7 556.2,396.6 556.9,394.8 558.1,393.2 559.6,392.0 561.4,391.2 563.4,390.9 565.3,391.1 567.1,391.8 568.6,393.0 569.7,394.4 570.5,396.1 570.8,398.0 570.5,399.8" fill="none" stroke="#1c1c1c" stroke-width="0.8" />
<circle cx="563.7" cy="398.3" r="1.5" fill="#1c1c1c" stroke="none"/>
<line x1="455" y1="351.3" x2="682.2" y2="351.3" stroke-width="1.5"/>
<line x1="554.5" y1="300" x2="554.5" y2="351.5" stroke-width="1.5"/>
<line x1="298.2" y1="300" x2="298.2" y2="355" stroke-width="1.5"/>
</g>
</svg>
</body></html>
